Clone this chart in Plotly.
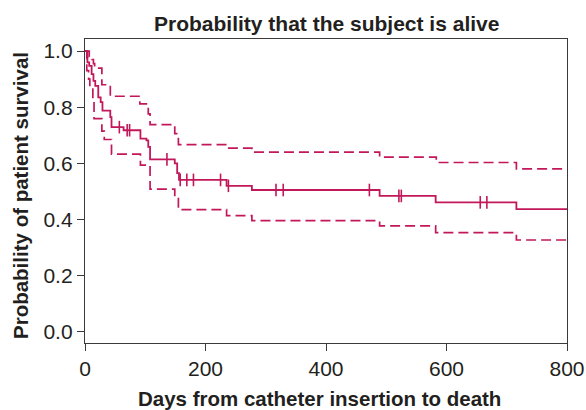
import plotly.graph_objects as go

# Kaplan-Meier estimate (step points)
surv_days = [0, 4, 7, 11, 14, 17, 22, 26, 29, 42, 44, 64, 92, 102, 105, 108, 149, 153, 156, 235, 277, 489, 582, 716, 800]
surv_prob = [1.0, 0.96, 0.947, 0.918, 0.894, 0.876, 0.835, 0.818, 0.788, 0.765, 0.729, 0.718, 0.688, 0.682, 0.659, 0.614, 0.6, 0.565, 0.541, 0.52, 0.505, 0.484, 0.461, 0.437, 0.437]

# Upper confidence limit
upper_days = [0, 7, 11, 14, 16, 28, 42, 91, 105, 108, 149, 155, 235, 277, 489, 583, 716, 800]
upper_prob = [1.0, 0.98, 0.97, 0.955, 0.939, 0.88, 0.839, 0.812, 0.776, 0.738, 0.706, 0.667, 0.654, 0.64, 0.622, 0.603, 0.58, 0.58]

# Lower confidence limit
lower_days = [0, 3, 6, 8, 13, 15, 28, 32, 44, 92, 108, 149, 155, 235, 277, 489, 582, 716, 800]
lower_prob = [1.0, 0.93, 0.9, 0.87, 0.82, 0.759, 0.715, 0.685, 0.633, 0.594, 0.508, 0.48, 0.435, 0.414, 0.396, 0.377, 0.353, 0.327, 0.327]

# Censored observations
cens_days = [57, 70, 74, 136, 158, 169, 180, 225, 238, 317, 329, 472, 521, 525, 656, 667]
cens_prob = [0.729, 0.718, 0.718, 0.614, 0.541, 0.541, 0.541, 0.541, 0.52, 0.505, 0.505, 0.505, 0.484, 0.484, 0.461, 0.461]

x_ticks = [0, 200, 400, 600, 800]
y_ticks = [0.0, 0.2, 0.4, 0.6, 0.8, 1.0]

title_text = "Probability that the subject is alive"
x_title = "Days from catheter insertion to death"
y_title = "Probability of patient survival"

COLOR = "#c2185b"
TXT = "#231f20"
AX = "#3a3a3a"
FONT = "Liberation Sans, Arial, Helvetica, sans-serif"

fig = go.Figure()
fig.add_trace(go.Scatter(x=upper_days, y=upper_prob, mode="lines",
                         line=dict(color=COLOR, width=1.7, dash="10px,5px", shape="hv"), showlegend=False))
fig.add_trace(go.Scatter(x=lower_days, y=lower_prob, mode="lines",
                         line=dict(color=COLOR, width=1.7, dash="10px,5px", shape="hv"), showlegend=False))
fig.add_trace(go.Scatter(x=surv_days, y=surv_prob, mode="lines",
                         line=dict(color=COLOR, width=1.8, shape="hv"), showlegend=False))
fig.add_trace(go.Scatter(x=cens_days, y=cens_prob, mode="markers",
                         marker=dict(symbol="line-ns", size=9, line=dict(color=COLOR, width=1.6)), showlegend=False))

# Plot area on screen: x 85..567, y 39..343
fig.update_layout(
    width=586, height=410,
    margin=dict(l=85, r=19, t=39, b=67, autoexpand=False),
    paper_bgcolor="white", plot_bgcolor="white",
    font=dict(family=FONT, color=TXT, size=21),
    annotations=[
        dict(text="<b>" + title_text + "</b>", xref="paper", yref="paper",
             x=0.5, y=1 + (39 - 24) / 304, xanchor="center", yanchor="middle",
             showarrow=False, font=dict(size=21, color=TXT)),
        dict(text="<b>" + x_title + "</b>", xref="paper", yref="paper",
             x=(319 - 85) / 482, y=(343 - 398) / 304, xanchor="center", yanchor="middle",
             showarrow=False, font=dict(size=20.5, color=TXT)),
        dict(text="<b>" + y_title + "</b>", xref="paper", yref="paper", textangle=-90,
             x=(20 - 85) / 482, y=(343 - 196) / 304, xanchor="center", yanchor="middle",
             showarrow=False, font=dict(size=20.5, color=TXT)),
    ],
)
fig.update_xaxes(range=[0, 800], tickvals=x_ticks, ticktext=[str(v) for v in x_ticks], automargin=False,
                 showgrid=False, zeroline=False, showline=True, linecolor=AX, linewidth=1.3, mirror=True,
                 ticks="outside", ticklen=7, tickcolor=AX, tickwidth=1.2,
                 tickfont=dict(size=21, color=TXT))
fig.update_yaxes(range=[-0.04, 1.043], tickvals=y_ticks, ticktext=[f"{v:.1f}" for v in y_ticks], automargin=False,
                 showgrid=False, zeroline=False, showline=True, linecolor=AX, linewidth=1.3, mirror=True,
                 ticks="outside", ticklen=7, tickcolor=AX, tickwidth=1.2,
                 tickfont=dict(size=21, color=TXT))

# remove the default 8px page margin so the 586x410 figure fills the window exactly
fig.write_html("out.html",
               config={"displayModeBar": False},
               post_script="document.body.style.margin='0';document.body.style.overflow='hidden';")
